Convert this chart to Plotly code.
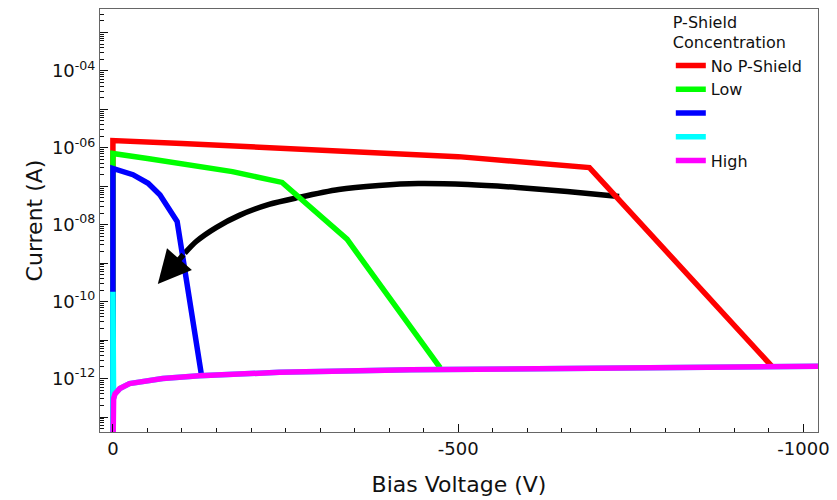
import math
import plotly.graph_objects as go

# ---- Data (bias voltage in V, current in A) ----
red_v = [0, 0, -100, -340, -500, -690, -955]
red_i = [1e-14, 1.55e-6, 1.29e-6, 8.2e-7, 5.9e-7, 3.07e-7, 2.0e-12]

green_v = [0, 0, -50, -100, -173, -245, -339, -474]
green_i = [1e-14, 7.1e-7, 5.3e-7, 3.9e-7, 2.4e-7, 1.26e-7, 4.2e-9, 1.9e-12]

blue_v = [0, 0, -29, -51, -68, -93, -128]
blue_i = [1e-14, 2.9e-7, 2.0e-7, 1.2e-7, 6.0e-8, 1.22e-8, 1.3e-12]

cyan_v = [0, 0, -1, -3, -10, -24, -50, -72, -125, -241, -432, -700, -1030]
cyan_i = [1e-14, 1.8e-10, 3.0e-13, 4.0e-13, 5.5e-13, 7.4e-13, 9.0e-13, 1.0e-12,
          1.18e-12, 1.45e-12, 1.69e-12, 1.9e-12, 2.1e-12]

mag_v = [0, -0.5, -1, -3, -10, -24, -50, -72, -125, -241, -432, -700, -1030]
mag_i = [1e-14, 1.5e-13, 3.0e-13, 4.0e-13, 5.5e-13, 7.4e-13, 9.0e-13, 1.0e-12,
         1.18e-12, 1.45e-12, 1.69e-12, 1.9e-12, 2.1e-12]

# trend arrow (black curve, ends in an arrow head)
arrow_v = [-733, -658, -586, -514, -442, -385, -327, -269, -226, -183, -150, -121, -104]
arrow_i = [5.45e-8, 7.3e-8, 9.3e-8, 1.11e-7, 1.18e-7, 1.05e-7, 8.26e-8, 5.13e-8,
           3.38e-8, 1.75e-8, 8.57e-9, 3.72e-9, 1.82e-9]
arrow_tip_v = -65
arrow_tip_i = 2.86e-10

series_names = ["No P-Shield", "Low", " ", " ", "High"]
series_colors = ["#ff0000", "#00ff00", "#0000ff", "#00ffff", "#ff00ff"]

x_tickvals = [0, -500, -1000]
x_ticktext = ["0", "-500", "-1000"]
y_decades = list(range(-13, -2))
y_tickvals = [10.0 ** d for d in y_decades]
y_ticktext = [("10<sup>%03d</sup>" % d) if d % 2 == 0 else "" for d in y_decades]

FONT = "DejaVu Sans"
LW = 5.5

fig = go.Figure()

# black arrow body drawn first (below coloured curves)
fig.add_trace(go.Scatter(x=arrow_v, y=arrow_i, mode="lines",
                         line=dict(color="black", width=LW, shape="spline", smoothing=0.8),
                         showlegend=False, hoverinfo="skip"))

for v, i, name, col in zip([red_v, green_v, blue_v, cyan_v, mag_v],
                           [red_i, green_i, blue_i, cyan_i, mag_i],
                           series_names, series_colors):
    fig.add_trace(go.Scatter(x=v, y=i, mode="lines", name=name,
                             line=dict(color=col, width=LW)))

fig.add_annotation(x=arrow_tip_v, y=math.log10(arrow_tip_i), xref="x", yref="y",
                   ax=arrow_v[-1], ay=math.log10(arrow_i[-1]), axref="x", ayref="y",
                   text="", showarrow=True, arrowhead=2, arrowsize=1.2,
                   arrowwidth=LW, arrowcolor="black", standoff=0)

minor_x = [v for v in range(-50, -1001, -50) if v not in x_tickvals]
minor_y = [k * 10.0 ** d for d in range(-14, -2) for k in range(2, 10)]

axis_common = dict(showgrid=False, zeroline=False, showline=True, linecolor="#666",
                   linewidth=1, mirror=True, ticks="inside", ticklen=8, tickwidth=1,
                   tickcolor="#111", tickfont=dict(family=FONT, size=18, color="#111"))

fig.update_layout(
    width=837, height=500,
    margin=dict(l=100, r=15, t=7, b=67),
    paper_bgcolor="white", plot_bgcolor="white",
    font=dict(family=FONT, color="#111"),
    xaxis=dict(range=[18.7, -1021], tickmode="array", tickvals=x_tickvals,
               ticktext=x_ticktext,
               minor=dict(tickmode="array", tickvals=minor_x, ticks="inside",
                          ticklen=4, tickcolor="#111", showgrid=False),
               title=dict(text="Bias Voltage (V)", font=dict(family=FONT, size=22),
                          standoff=19),
               **axis_common),
    yaxis=dict(type="log", range=[-13.39, -2.39], tickmode="array",
               tickvals=y_tickvals, ticktext=y_ticktext,
               minor=dict(tickmode="array", tickvals=minor_y, ticks="inside",
                          ticklen=4, tickcolor="#111", showgrid=False),
               title=dict(text="Current (A)", font=dict(family=FONT, size=22),
                          standoff=3),
               **axis_common),
    legend=dict(x=0.795, y=1.005, xanchor="left", yanchor="top",
                bgcolor="rgba(0,0,0,0)", borderwidth=0,
                font=dict(family=FONT, size=16, color="#111"),
                title=dict(text="P-Shield<br>Concentration",
                           font=dict(family=FONT, size=16, color="#111"))),
    showlegend=True,
)

fig.write_html("out.html")
